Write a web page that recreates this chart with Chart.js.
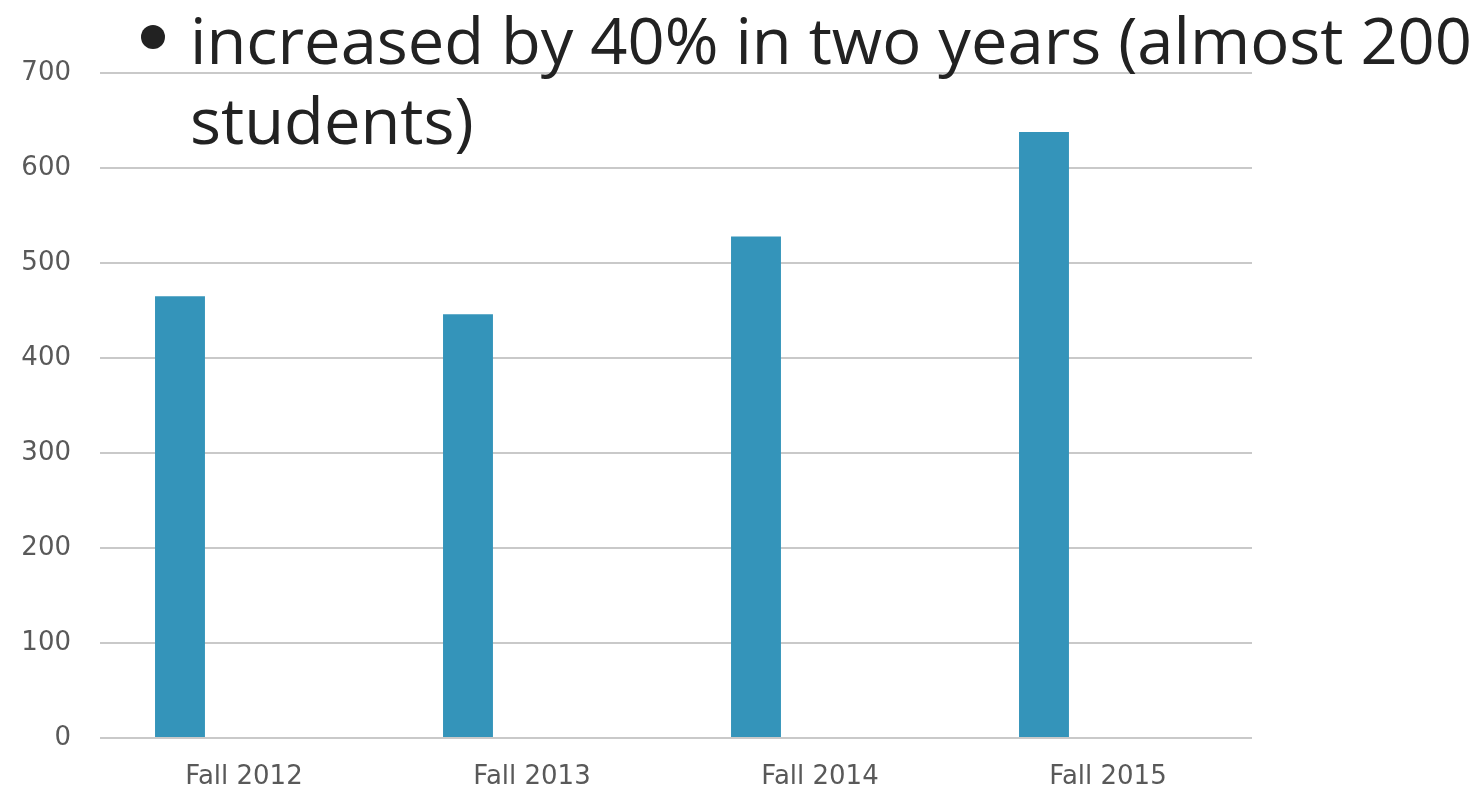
<!DOCTYPE html>
<html>
<head>
<meta charset="utf-8">
<script src="https://cdn.jsdelivr.net/npm/chart.js@4/dist/chart.umd.min.js"></script>
<style>
  html, body { margin: 0; padding: 0; background: #fff; }
  #wrap { position: relative; width: 1481px; height: 794px; overflow: hidden; }
  #chart { position: absolute; left: 0; top: 0; }
  #bullet {
    position: absolute; left: 0; top: 0; width: 1481px;
    font-family: "Open Sans", sans-serif; font-size: 64px; line-height: 80px;
    color: #222; white-space: nowrap;
  }
  #bullet .dot {
    position: absolute; left: 141px; top: 25px; width: 24px; height: 24px;
    border-radius: 50%; background: #222;
  }
  #bullet .txt { position: absolute; left: 190px; transform-origin: 0 0; }
</style>
</head>
<body>
<div id="wrap">
  <canvas id="chart" width="1481" height="794"></canvas>
  <div id="bullet">
    <span class="dot"></span>
    <span class="txt" id="line1" style="top:0px">increased by 40% in two years (almost 200</span>
    <span class="txt" id="line2" style="top:80px">students)</span>
  </div>
</div>
<script>
// データ
const terms = ['Fall 2012', 'Fall 2013', 'Fall 2014', 'Fall 2015'];
const enrollment = [465, 446, 528, 638];
const emptySeries = [null, null, null, null];
const yTicks = [0, 100, 200, 300, 400, 500, 600, 700];

const labelFont = { family: '"DejaVu Sans", sans-serif', size: 26 };

// 箇条書きテキストの幅を合わせる
const line1 = document.getElementById('line1');
const line2 = document.getElementById('line2');
const targetWidth = 1282;
const scale = targetWidth / line1.getBoundingClientRect().width;
line1.style.transform = `scaleX(${scale})`;
line2.style.transform = `scaleX(${scale})`;

const ctx = document.getElementById('chart').getContext('2d');
new Chart(ctx, {
    type: 'bar',
    data: {
        labels: terms,
        datasets: [
            {
                data: enrollment,
                backgroundColor: '#3494ba',
                categoryPercentage: 0.889,
                barPercentage: 0.39
            },
            {
                data: emptySeries,
                backgroundColor: '#3494ba',
                categoryPercentage: 0.889,
                barPercentage: 0.39
            }
        ]
    },
    options: {
        responsive: false,
        animation: false,
        layout: { padding: { top: 73, right: 229, left: 0, bottom: 0 } },
        plugins: {
            legend: { display: false },
            tooltip: { enabled: false }
        },
        scales: {
            x: {
                grid: { display: false, drawTicks: false },
                border: { display: false },
                ticks: { color: '#595959', font: labelFont, padding: 24 },
                afterFit: (scale) => { scale.height = 56; }
            },
            y: {
                min: 0,
                max: 700,
                afterBuildTicks: (scale) => { scale.ticks = yTicks.map(v => ({ value: v })); },
                grid: { color: '#c9c9c9', lineWidth: 2, drawTicks: false },
                border: { display: false },
                ticks: { color: '#595959', font: labelFont, padding: 29 },
                afterFit: (scale) => { scale.width = 100; }
            }
        }
    }
});
</script>
</body>
</html>
